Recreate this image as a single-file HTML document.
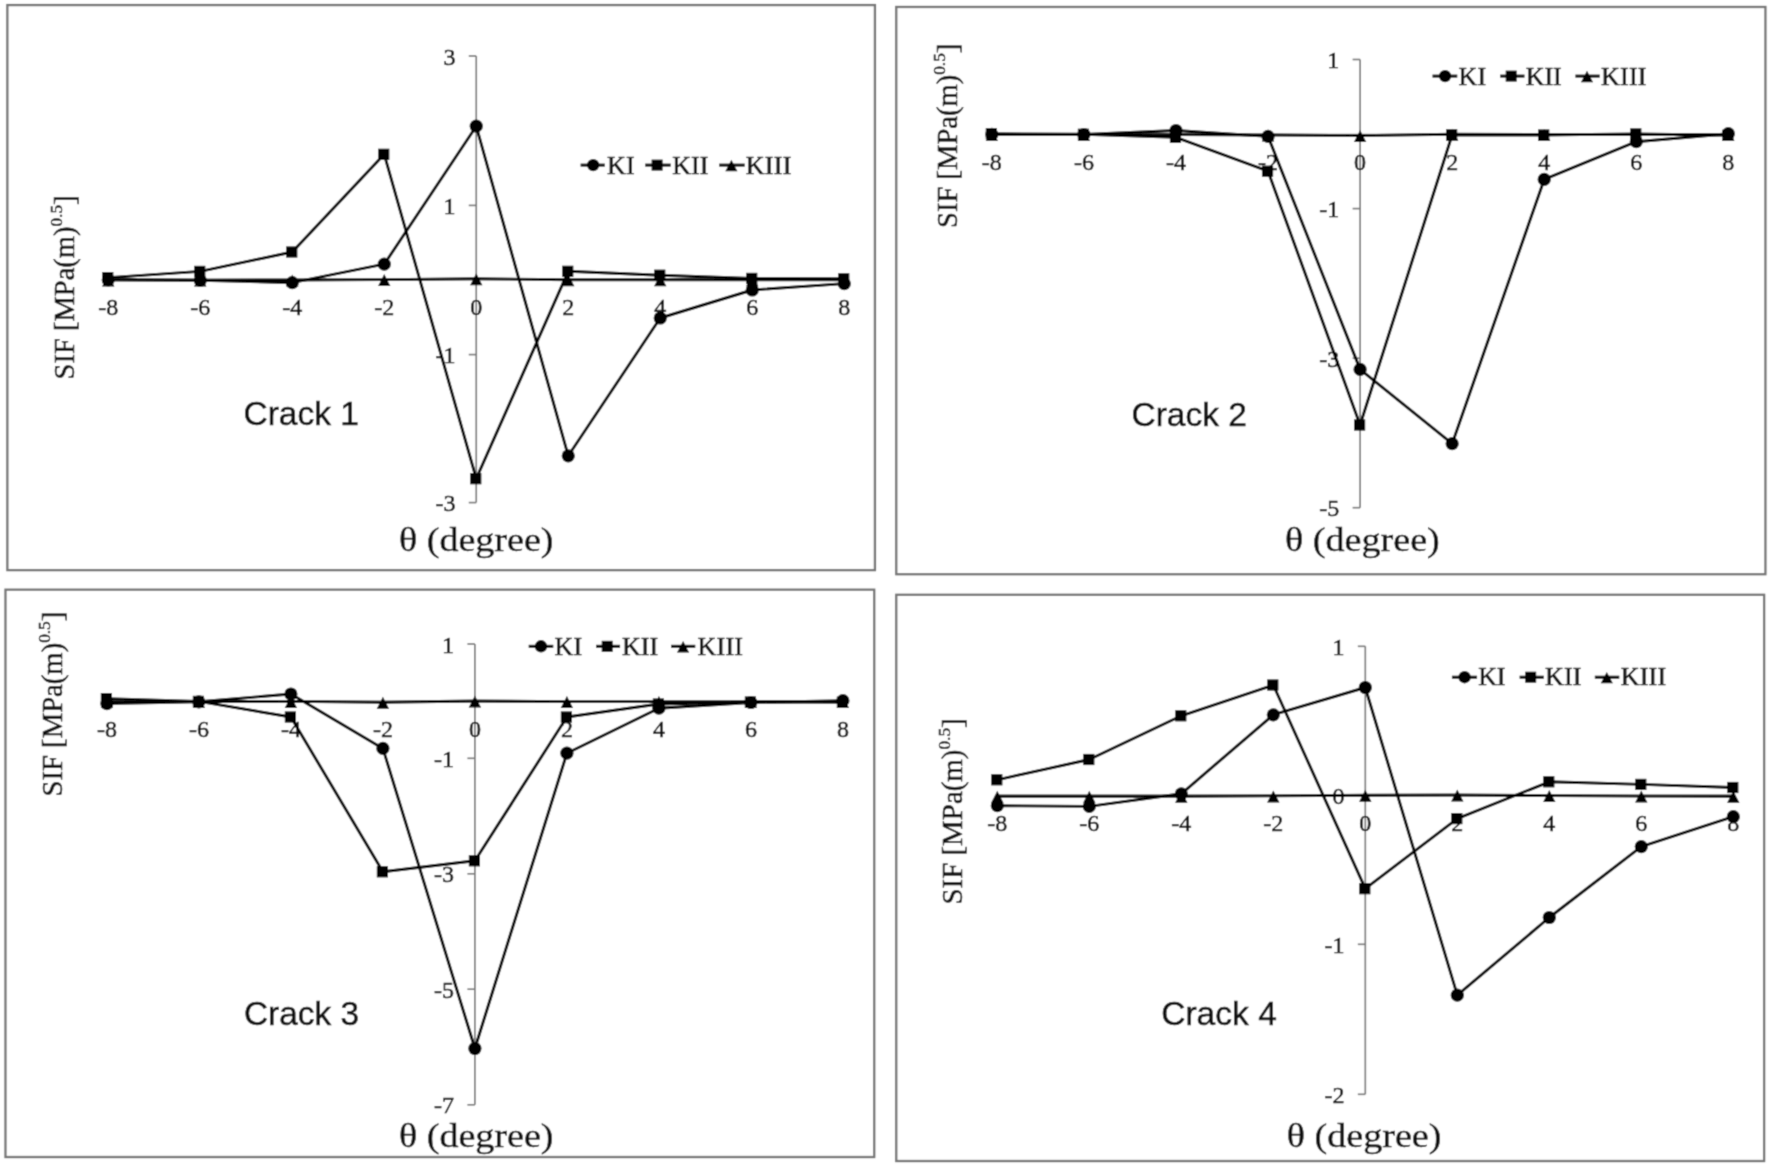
<!DOCTYPE html>
<html lang="en">
<head>
<meta charset="utf-8">
<title>SIF versus crack angle - Crack 1 to Crack 4</title>
<style>
html,body{margin:0;padding:0;background:#fff;}
body{width:1770px;height:1168px;overflow:hidden;}
svg{display:block;}
text{white-space:pre;}
</style>
</head>
<body>
<svg width="1770" height="1168" viewBox="0 0 1770 1168">
<defs><filter id="soft" x="0" y="0" width="1770" height="1168" filterUnits="userSpaceOnUse"><feConvolveMatrix order="3" kernelMatrix="0.0311 0.1141 0.0311 0.1141 0.4191 0.1141 0.0311 0.1141 0.0311" edgeMode="duplicate" preserveAlpha="false"/></filter></defs>
<rect x="0" y="0" width="1770" height="1168" fill="#ffffff"/>
<g filter="url(#soft)">
<g>
<rect x="7.4" y="5.1" width="867.5" height="565" fill="#fff" stroke="#767676" stroke-width="2.3"/>
<line x1="476.25" y1="56" x2="476.25" y2="502.6" stroke="#7a7a7a" stroke-width="1.7"/>
<line x1="468.75" y1="56" x2="476.25" y2="56" stroke="#7a7a7a" stroke-width="1.7"/>
<text x="455.45" y="64.5" font-family='"Liberation Serif", "DejaVu Serif", serif' font-size="24" text-anchor="end" fill="#0c0c0c" stroke="#0c0c0c" stroke-width="0.5">3</text>
<line x1="468.75" y1="205.4" x2="476.25" y2="205.4" stroke="#7a7a7a" stroke-width="1.7"/>
<text x="455.45" y="213.9" font-family='"Liberation Serif", "DejaVu Serif", serif' font-size="24" text-anchor="end" fill="#0c0c0c" stroke="#0c0c0c" stroke-width="0.5">1</text>
<line x1="468.75" y1="354.6" x2="476.25" y2="354.6" stroke="#7a7a7a" stroke-width="1.7"/>
<text x="455.45" y="363.1" font-family='"Liberation Serif", "DejaVu Serif", serif' font-size="24" text-anchor="end" fill="#0c0c0c" stroke="#0c0c0c" stroke-width="0.5">-1</text>
<line x1="468.75" y1="502.6" x2="476.25" y2="502.6" stroke="#7a7a7a" stroke-width="1.7"/>
<text x="455.45" y="511.1" font-family='"Liberation Serif", "DejaVu Serif", serif' font-size="24" text-anchor="end" fill="#0c0c0c" stroke="#0c0c0c" stroke-width="0.5">-3</text>
<line x1="108.25" y1="279.5" x2="844.25" y2="279.5" stroke="#7a7a7a" stroke-width="1.7"/>
<text x="108.25" y="315.1" font-family='"Liberation Serif", "DejaVu Serif", serif' font-size="24" text-anchor="middle" fill="#0c0c0c" stroke="#0c0c0c" stroke-width="0.5">-8</text>
<text x="200.25" y="315.1" font-family='"Liberation Serif", "DejaVu Serif", serif' font-size="24" text-anchor="middle" fill="#0c0c0c" stroke="#0c0c0c" stroke-width="0.5">-6</text>
<text x="292.25" y="315.1" font-family='"Liberation Serif", "DejaVu Serif", serif' font-size="24" text-anchor="middle" fill="#0c0c0c" stroke="#0c0c0c" stroke-width="0.5">-4</text>
<text x="384.25" y="315.1" font-family='"Liberation Serif", "DejaVu Serif", serif' font-size="24" text-anchor="middle" fill="#0c0c0c" stroke="#0c0c0c" stroke-width="0.5">-2</text>
<text x="476.25" y="315.1" font-family='"Liberation Serif", "DejaVu Serif", serif' font-size="24" text-anchor="middle" fill="#0c0c0c" stroke="#0c0c0c" stroke-width="0.5">0</text>
<text x="568.25" y="315.1" font-family='"Liberation Serif", "DejaVu Serif", serif' font-size="24" text-anchor="middle" fill="#0c0c0c" stroke="#0c0c0c" stroke-width="0.5">2</text>
<text x="660.25" y="315.1" font-family='"Liberation Serif", "DejaVu Serif", serif' font-size="24" text-anchor="middle" fill="#0c0c0c" stroke="#0c0c0c" stroke-width="0.5">4</text>
<text x="752.25" y="315.1" font-family='"Liberation Serif", "DejaVu Serif", serif' font-size="24" text-anchor="middle" fill="#0c0c0c" stroke="#0c0c0c" stroke-width="0.5">6</text>
<text x="844.25" y="315.1" font-family='"Liberation Serif", "DejaVu Serif", serif' font-size="24" text-anchor="middle" fill="#0c0c0c" stroke="#0c0c0c" stroke-width="0.5">8</text>
<text x="243.5" y="425.4" font-family='"Liberation Sans", "DejaVu Sans", sans-serif' font-size="34" text-anchor="start" fill="#0c0c0c" textLength="115.5" lengthAdjust="spacingAndGlyphs" stroke="#0c0c0c" stroke-width="0.5">Crack 1</text>
<text x="399" y="550.8" font-family='"Liberation Serif", "DejaVu Serif", serif' font-size="34" text-anchor="start" fill="#0c0c0c" textLength="154.5" lengthAdjust="spacingAndGlyphs" stroke="#0c0c0c" stroke-width="0.4">θ (degree)</text>
<text transform="translate(74.2 379.5) rotate(-90)" font-family='"Liberation Serif", "DejaVu Serif", serif' font-size="28.5" fill="#101010" stroke="#101010" stroke-width="0.5" textLength="184" lengthAdjust="spacingAndGlyphs">SIF [MPa(m)<tspan font-size="17.1" dy="-11.97">0.5</tspan><tspan dy="11.97">]</tspan></text>
<polyline fill="none" stroke="#000000" stroke-width="2.9" stroke-linejoin="round" points="108.25,279.8 200.25,280.3 292.25,282.7 384.25,264.2 476.25,126.2 568.25,455.8 660.25,318 752.25,290 844.25,283.6"/>
<circle cx="108.25" cy="279.8" r="6.6" fill="#000000"/>
<circle cx="200.25" cy="280.3" r="6.6" fill="#000000"/>
<circle cx="292.25" cy="282.7" r="6.6" fill="#000000"/>
<circle cx="384.25" cy="264.2" r="6.6" fill="#000000"/>
<circle cx="476.25" cy="126.2" r="6.6" fill="#000000"/>
<circle cx="568.25" cy="455.8" r="6.6" fill="#000000"/>
<circle cx="660.25" cy="318" r="6.6" fill="#000000"/>
<circle cx="752.25" cy="290" r="6.6" fill="#000000"/>
<circle cx="844.25" cy="283.6" r="6.6" fill="#000000"/>
<polyline fill="none" stroke="#000000" stroke-width="2.9" stroke-linejoin="round" points="108.25,277.6 200.25,271.4 292.25,252 384.25,154.3 476.25,478.7 568.25,271.3 660.25,275.2 752.25,278.4 844.25,278.8"/>
<rect x="102.15" y="272" width="11.2" height="11.2" fill="#000000"/>
<rect x="194.15" y="265.8" width="11.2" height="11.2" fill="#000000"/>
<rect x="286.15" y="246.4" width="11.2" height="11.2" fill="#000000"/>
<rect x="378.15" y="148.7" width="11.2" height="11.2" fill="#000000"/>
<rect x="470.15" y="473.1" width="11.2" height="11.2" fill="#000000"/>
<rect x="562.15" y="265.7" width="11.2" height="11.2" fill="#000000"/>
<rect x="654.15" y="269.6" width="11.2" height="11.2" fill="#000000"/>
<rect x="746.15" y="272.8" width="11.2" height="11.2" fill="#000000"/>
<rect x="838.15" y="273.2" width="11.2" height="11.2" fill="#000000"/>
<polyline fill="none" stroke="#000000" stroke-width="2.9" stroke-linejoin="round" points="108.25,279.9 200.25,280.1 292.25,280 384.25,279.6 476.25,278.7 568.25,279.8 660.25,279.8 752.25,279.8 844.25,279.8"/>
<polygon points="108.25,274.38 102.05,286.38 114.45,286.38" fill="#000000"/>
<polygon points="200.25,274.58 194.05,286.58 206.45,286.58" fill="#000000"/>
<polygon points="292.25,274.48 286.05,286.48 298.45,286.48" fill="#000000"/>
<polygon points="384.25,274.08 378.05,286.08 390.45,286.08" fill="#000000"/>
<polygon points="476.25,273.18 470.05,285.18 482.45,285.18" fill="#000000"/>
<polygon points="568.25,274.28 562.05,286.28 574.45,286.28" fill="#000000"/>
<polygon points="660.25,274.28 654.05,286.28 666.45,286.28" fill="#000000"/>
<polygon points="752.25,274.28 746.05,286.28 758.45,286.28" fill="#000000"/>
<polygon points="844.25,274.28 838.05,286.28 850.45,286.28" fill="#000000"/>
<line x1="580.6" y1="165.1" x2="604.8" y2="165.1" stroke="#000000" stroke-width="3"/>
<circle cx="593.2" cy="165.1" r="6.2" fill="#000000"/>
<text x="607" y="173.9" font-family='"Liberation Serif", "DejaVu Serif", serif' font-size="26" text-anchor="start" fill="#101010" textLength="27.6" lengthAdjust="spacing" stroke="#101010" stroke-width="0.6">KI</text>
<line x1="645.2" y1="165.1" x2="670.7" y2="165.1" stroke="#000000" stroke-width="3"/>
<rect x="651.6" y="159.6" width="11" height="11" fill="#000000"/>
<text x="672.3" y="173.9" font-family='"Liberation Serif", "DejaVu Serif", serif' font-size="26" text-anchor="start" fill="#101010" textLength="36.2" lengthAdjust="spacing" stroke="#101010" stroke-width="0.6">KII</text>
<line x1="719.2" y1="165.1" x2="744.7" y2="165.1" stroke="#000000" stroke-width="3"/>
<polygon points="731.4,159.86 725.3,171.26 737.5,171.26" fill="#000000"/>
<text x="745.7" y="173.9" font-family='"Liberation Serif", "DejaVu Serif", serif' font-size="26" text-anchor="start" fill="#101010" textLength="45.8" lengthAdjust="spacing" stroke="#101010" stroke-width="0.6">KIII</text>
</g>
<g>
<rect x="896.3" y="7" width="869.1" height="567.2" fill="#fff" stroke="#767676" stroke-width="2.3"/>
<line x1="1360.1" y1="59.5" x2="1360.1" y2="507.7" stroke="#7a7a7a" stroke-width="1.7"/>
<line x1="1352.6" y1="59.5" x2="1360.1" y2="59.5" stroke="#7a7a7a" stroke-width="1.7"/>
<text x="1339.3" y="68" font-family='"Liberation Serif", "DejaVu Serif", serif' font-size="24" text-anchor="end" fill="#0c0c0c" stroke="#0c0c0c" stroke-width="0.5">1</text>
<line x1="1352.6" y1="208.6" x2="1360.1" y2="208.6" stroke="#7a7a7a" stroke-width="1.7"/>
<text x="1339.3" y="217.1" font-family='"Liberation Serif", "DejaVu Serif", serif' font-size="24" text-anchor="end" fill="#0c0c0c" stroke="#0c0c0c" stroke-width="0.5">-1</text>
<line x1="1352.6" y1="358.2" x2="1360.1" y2="358.2" stroke="#7a7a7a" stroke-width="1.7"/>
<text x="1339.3" y="366.7" font-family='"Liberation Serif", "DejaVu Serif", serif' font-size="24" text-anchor="end" fill="#0c0c0c" stroke="#0c0c0c" stroke-width="0.5">-3</text>
<line x1="1352.6" y1="507.7" x2="1360.1" y2="507.7" stroke="#7a7a7a" stroke-width="1.7"/>
<text x="1339.3" y="516.2" font-family='"Liberation Serif", "DejaVu Serif", serif' font-size="24" text-anchor="end" fill="#0c0c0c" stroke="#0c0c0c" stroke-width="0.5">-5</text>
<line x1="991.86" y1="134.6" x2="1728.34" y2="134.6" stroke="#7a7a7a" stroke-width="1.7"/>
<text x="991.86" y="170.2" font-family='"Liberation Serif", "DejaVu Serif", serif' font-size="24" text-anchor="middle" fill="#0c0c0c" stroke="#0c0c0c" stroke-width="0.5">-8</text>
<text x="1083.92" y="170.2" font-family='"Liberation Serif", "DejaVu Serif", serif' font-size="24" text-anchor="middle" fill="#0c0c0c" stroke="#0c0c0c" stroke-width="0.5">-6</text>
<text x="1175.98" y="170.2" font-family='"Liberation Serif", "DejaVu Serif", serif' font-size="24" text-anchor="middle" fill="#0c0c0c" stroke="#0c0c0c" stroke-width="0.5">-4</text>
<text x="1268.04" y="170.2" font-family='"Liberation Serif", "DejaVu Serif", serif' font-size="24" text-anchor="middle" fill="#0c0c0c" stroke="#0c0c0c" stroke-width="0.5">-2</text>
<text x="1360.1" y="170.2" font-family='"Liberation Serif", "DejaVu Serif", serif' font-size="24" text-anchor="middle" fill="#0c0c0c" stroke="#0c0c0c" stroke-width="0.5">0</text>
<text x="1452.16" y="170.2" font-family='"Liberation Serif", "DejaVu Serif", serif' font-size="24" text-anchor="middle" fill="#0c0c0c" stroke="#0c0c0c" stroke-width="0.5">2</text>
<text x="1544.22" y="170.2" font-family='"Liberation Serif", "DejaVu Serif", serif' font-size="24" text-anchor="middle" fill="#0c0c0c" stroke="#0c0c0c" stroke-width="0.5">4</text>
<text x="1636.28" y="170.2" font-family='"Liberation Serif", "DejaVu Serif", serif' font-size="24" text-anchor="middle" fill="#0c0c0c" stroke="#0c0c0c" stroke-width="0.5">6</text>
<text x="1728.34" y="170.2" font-family='"Liberation Serif", "DejaVu Serif", serif' font-size="24" text-anchor="middle" fill="#0c0c0c" stroke="#0c0c0c" stroke-width="0.5">8</text>
<text x="1131.5" y="426" font-family='"Liberation Sans", "DejaVu Sans", sans-serif' font-size="34" text-anchor="start" fill="#0c0c0c" textLength="115.4" lengthAdjust="spacingAndGlyphs" stroke="#0c0c0c" stroke-width="0.5">Crack 2</text>
<text x="1285" y="551.4" font-family='"Liberation Serif", "DejaVu Serif", serif' font-size="34" text-anchor="start" fill="#0c0c0c" textLength="154.8" lengthAdjust="spacingAndGlyphs" stroke="#0c0c0c" stroke-width="0.4">θ (degree)</text>
<text transform="translate(957.2 228) rotate(-90)" font-family='"Liberation Serif", "DejaVu Serif", serif' font-size="28.5" fill="#101010" stroke="#101010" stroke-width="0.5" textLength="184.25" lengthAdjust="spacingAndGlyphs">SIF [MPa(m)<tspan font-size="17.1" dy="-11.97">0.5</tspan><tspan dy="11.97">]</tspan></text>
<polyline fill="none" stroke="#000000" stroke-width="2.9" stroke-linejoin="round" points="991.86,134.4 1083.92,134.5 1175.98,130.5 1268.04,136.4 1360.1,369.4 1452.16,443.7 1544.22,179.4 1636.28,141.7 1728.34,133.7"/>
<circle cx="991.86" cy="134.4" r="6.6" fill="#000000"/>
<circle cx="1083.92" cy="134.5" r="6.6" fill="#000000"/>
<circle cx="1175.98" cy="130.5" r="6.6" fill="#000000"/>
<circle cx="1268.04" cy="136.4" r="6.6" fill="#000000"/>
<circle cx="1360.1" cy="369.4" r="6.6" fill="#000000"/>
<circle cx="1452.16" cy="443.7" r="6.6" fill="#000000"/>
<circle cx="1544.22" cy="179.4" r="6.6" fill="#000000"/>
<circle cx="1636.28" cy="141.7" r="6.6" fill="#000000"/>
<circle cx="1728.34" cy="133.7" r="6.6" fill="#000000"/>
<polyline fill="none" stroke="#000000" stroke-width="2.9" stroke-linejoin="round" points="991.86,133.7 1083.92,134.3 1175.98,137.4 1268.04,171.2 1360.1,425 1452.16,134.8 1544.22,135 1636.28,133.9 1728.34,135.3"/>
<rect x="985.76" y="128.1" width="11.2" height="11.2" fill="#000000"/>
<rect x="1077.82" y="128.7" width="11.2" height="11.2" fill="#000000"/>
<rect x="1169.88" y="131.8" width="11.2" height="11.2" fill="#000000"/>
<rect x="1261.94" y="165.6" width="11.2" height="11.2" fill="#000000"/>
<rect x="1354" y="419.4" width="11.2" height="11.2" fill="#000000"/>
<rect x="1446.06" y="129.2" width="11.2" height="11.2" fill="#000000"/>
<rect x="1538.12" y="129.4" width="11.2" height="11.2" fill="#000000"/>
<rect x="1630.18" y="128.3" width="11.2" height="11.2" fill="#000000"/>
<rect x="1722.24" y="129.7" width="11.2" height="11.2" fill="#000000"/>
<polyline fill="none" stroke="#000000" stroke-width="2.9" stroke-linejoin="round" points="991.86,134.6 1083.92,134.6 1175.98,134.6 1268.04,135 1360.1,135.6 1452.16,134.2 1544.22,134.6 1636.28,134.6 1728.34,134.6"/>
<polygon points="991.86,129.08 985.66,141.08 998.06,141.08" fill="#000000"/>
<polygon points="1083.92,129.08 1077.72,141.08 1090.12,141.08" fill="#000000"/>
<polygon points="1175.98,129.08 1169.78,141.08 1182.18,141.08" fill="#000000"/>
<polygon points="1268.04,129.48 1261.84,141.48 1274.24,141.48" fill="#000000"/>
<polygon points="1360.1,130.08 1353.9,142.08 1366.3,142.08" fill="#000000"/>
<polygon points="1452.16,128.68 1445.96,140.68 1458.36,140.68" fill="#000000"/>
<polygon points="1544.22,129.08 1538.02,141.08 1550.42,141.08" fill="#000000"/>
<polygon points="1636.28,129.08 1630.08,141.08 1642.48,141.08" fill="#000000"/>
<polygon points="1728.34,129.08 1722.14,141.08 1734.54,141.08" fill="#000000"/>
<line x1="1432.5" y1="76.1" x2="1457.3" y2="76.1" stroke="#000000" stroke-width="3"/>
<circle cx="1445.1" cy="76.1" r="6.2" fill="#000000"/>
<text x="1458.6" y="84.5" font-family='"Liberation Serif", "DejaVu Serif", serif' font-size="26" text-anchor="start" fill="#101010" textLength="27.5" lengthAdjust="spacing" stroke="#101010" stroke-width="0.6">KI</text>
<line x1="1500.2" y1="76.1" x2="1524.5" y2="76.1" stroke="#000000" stroke-width="3"/>
<rect x="1505.7" y="70.6" width="11" height="11" fill="#000000"/>
<text x="1525.7" y="84.5" font-family='"Liberation Serif", "DejaVu Serif", serif' font-size="26" text-anchor="start" fill="#101010" textLength="36" lengthAdjust="spacing" stroke="#101010" stroke-width="0.6">KII</text>
<line x1="1575.4" y1="76.1" x2="1599.7" y2="76.1" stroke="#000000" stroke-width="3"/>
<polygon points="1587,70.86 1580.9,82.26 1593.1,82.26" fill="#000000"/>
<text x="1600.9" y="84.5" font-family='"Liberation Serif", "DejaVu Serif", serif' font-size="26" text-anchor="start" fill="#101010" textLength="45.6" lengthAdjust="spacing" stroke="#101010" stroke-width="0.6">KIII</text>
</g>
<g>
<rect x="5.5" y="589.7" width="868.7" height="567.3" fill="#fff" stroke="#767676" stroke-width="2.3"/>
<line x1="474.9" y1="644" x2="474.9" y2="1104.8" stroke="#7a7a7a" stroke-width="1.7"/>
<line x1="467.4" y1="644" x2="474.9" y2="644" stroke="#7a7a7a" stroke-width="1.7"/>
<text x="454.1" y="652.5" font-family='"Liberation Serif", "DejaVu Serif", serif' font-size="24" text-anchor="end" fill="#0c0c0c" stroke="#0c0c0c" stroke-width="0.5">1</text>
<line x1="467.4" y1="758.3" x2="474.9" y2="758.3" stroke="#7a7a7a" stroke-width="1.7"/>
<text x="454.1" y="766.8" font-family='"Liberation Serif", "DejaVu Serif", serif' font-size="24" text-anchor="end" fill="#0c0c0c" stroke="#0c0c0c" stroke-width="0.5">-1</text>
<line x1="467.4" y1="873.8" x2="474.9" y2="873.8" stroke="#7a7a7a" stroke-width="1.7"/>
<text x="454.1" y="882.3" font-family='"Liberation Serif", "DejaVu Serif", serif' font-size="24" text-anchor="end" fill="#0c0c0c" stroke="#0c0c0c" stroke-width="0.5">-3</text>
<line x1="467.4" y1="989.2" x2="474.9" y2="989.2" stroke="#7a7a7a" stroke-width="1.7"/>
<text x="454.1" y="997.7" font-family='"Liberation Serif", "DejaVu Serif", serif' font-size="24" text-anchor="end" fill="#0c0c0c" stroke="#0c0c0c" stroke-width="0.5">-5</text>
<line x1="467.4" y1="1104.8" x2="474.9" y2="1104.8" stroke="#7a7a7a" stroke-width="1.7"/>
<text x="454.1" y="1113.3" font-family='"Liberation Serif", "DejaVu Serif", serif' font-size="24" text-anchor="end" fill="#0c0c0c" stroke="#0c0c0c" stroke-width="0.5">-7</text>
<line x1="106.9" y1="701.6" x2="842.9" y2="701.6" stroke="#7a7a7a" stroke-width="1.7"/>
<text x="106.9" y="737.2" font-family='"Liberation Serif", "DejaVu Serif", serif' font-size="24" text-anchor="middle" fill="#0c0c0c" stroke="#0c0c0c" stroke-width="0.5">-8</text>
<text x="198.9" y="737.2" font-family='"Liberation Serif", "DejaVu Serif", serif' font-size="24" text-anchor="middle" fill="#0c0c0c" stroke="#0c0c0c" stroke-width="0.5">-6</text>
<text x="290.9" y="737.2" font-family='"Liberation Serif", "DejaVu Serif", serif' font-size="24" text-anchor="middle" fill="#0c0c0c" stroke="#0c0c0c" stroke-width="0.5">-4</text>
<text x="382.9" y="737.2" font-family='"Liberation Serif", "DejaVu Serif", serif' font-size="24" text-anchor="middle" fill="#0c0c0c" stroke="#0c0c0c" stroke-width="0.5">-2</text>
<text x="474.9" y="737.2" font-family='"Liberation Serif", "DejaVu Serif", serif' font-size="24" text-anchor="middle" fill="#0c0c0c" stroke="#0c0c0c" stroke-width="0.5">0</text>
<text x="566.9" y="737.2" font-family='"Liberation Serif", "DejaVu Serif", serif' font-size="24" text-anchor="middle" fill="#0c0c0c" stroke="#0c0c0c" stroke-width="0.5">2</text>
<text x="658.9" y="737.2" font-family='"Liberation Serif", "DejaVu Serif", serif' font-size="24" text-anchor="middle" fill="#0c0c0c" stroke="#0c0c0c" stroke-width="0.5">4</text>
<text x="750.9" y="737.2" font-family='"Liberation Serif", "DejaVu Serif", serif' font-size="24" text-anchor="middle" fill="#0c0c0c" stroke="#0c0c0c" stroke-width="0.5">6</text>
<text x="842.9" y="737.2" font-family='"Liberation Serif", "DejaVu Serif", serif' font-size="24" text-anchor="middle" fill="#0c0c0c" stroke="#0c0c0c" stroke-width="0.5">8</text>
<text x="244" y="1024.6" font-family='"Liberation Sans", "DejaVu Sans", sans-serif' font-size="34" text-anchor="start" fill="#0c0c0c" textLength="115" lengthAdjust="spacingAndGlyphs" stroke="#0c0c0c" stroke-width="0.5">Crack 3</text>
<text x="399" y="1146.8" font-family='"Liberation Serif", "DejaVu Serif", serif' font-size="34" text-anchor="start" fill="#0c0c0c" textLength="154.5" lengthAdjust="spacingAndGlyphs" stroke="#0c0c0c" stroke-width="0.4">θ (degree)</text>
<text transform="translate(61.7 796.5) rotate(-90)" font-family='"Liberation Serif", "DejaVu Serif", serif' font-size="28.5" fill="#101010" stroke="#101010" stroke-width="0.5" textLength="184.75" lengthAdjust="spacingAndGlyphs">SIF [MPa(m)<tspan font-size="17.1" dy="-11.97">0.5</tspan><tspan dy="11.97">]</tspan></text>
<polyline fill="none" stroke="#000000" stroke-width="2.9" stroke-linejoin="round" points="106.9,703.6 198.9,701.8 290.9,694 382.9,748.4 474.9,1048.5 566.9,753.2 658.9,708.2 750.9,702.5 842.9,700.7"/>
<circle cx="106.9" cy="703.6" r="6.6" fill="#000000"/>
<circle cx="198.9" cy="701.8" r="6.6" fill="#000000"/>
<circle cx="290.9" cy="694" r="6.6" fill="#000000"/>
<circle cx="382.9" cy="748.4" r="6.6" fill="#000000"/>
<circle cx="474.9" cy="1048.5" r="6.6" fill="#000000"/>
<circle cx="566.9" cy="753.2" r="6.6" fill="#000000"/>
<circle cx="658.9" cy="708.2" r="6.6" fill="#000000"/>
<circle cx="750.9" cy="702.5" r="6.6" fill="#000000"/>
<circle cx="842.9" cy="700.7" r="6.6" fill="#000000"/>
<polyline fill="none" stroke="#000000" stroke-width="2.9" stroke-linejoin="round" points="106.9,698.6 198.9,701.4 290.9,717 382.9,871.8 474.9,860.8 566.9,717 658.9,704 750.9,702 842.9,702.2"/>
<rect x="100.8" y="693" width="11.2" height="11.2" fill="#000000"/>
<rect x="192.8" y="695.8" width="11.2" height="11.2" fill="#000000"/>
<rect x="284.8" y="711.4" width="11.2" height="11.2" fill="#000000"/>
<rect x="376.8" y="866.2" width="11.2" height="11.2" fill="#000000"/>
<rect x="468.8" y="855.2" width="11.2" height="11.2" fill="#000000"/>
<rect x="560.8" y="711.4" width="11.2" height="11.2" fill="#000000"/>
<rect x="652.8" y="698.4" width="11.2" height="11.2" fill="#000000"/>
<rect x="744.8" y="696.4" width="11.2" height="11.2" fill="#000000"/>
<rect x="836.8" y="696.6" width="11.2" height="11.2" fill="#000000"/>
<polyline fill="none" stroke="#000000" stroke-width="2.9" stroke-linejoin="round" points="106.9,701.6 198.9,701.6 290.9,701.4 382.9,702.2 474.9,701 566.9,701.6 658.9,701.6 750.9,701.6 842.9,701.4"/>
<polygon points="106.9,696.08 100.7,708.08 113.1,708.08" fill="#000000"/>
<polygon points="198.9,696.08 192.7,708.08 205.1,708.08" fill="#000000"/>
<polygon points="290.9,695.88 284.7,707.88 297.1,707.88" fill="#000000"/>
<polygon points="382.9,696.68 376.7,708.68 389.1,708.68" fill="#000000"/>
<polygon points="474.9,695.48 468.7,707.48 481.1,707.48" fill="#000000"/>
<polygon points="566.9,696.08 560.7,708.08 573.1,708.08" fill="#000000"/>
<polygon points="658.9,696.08 652.7,708.08 665.1,708.08" fill="#000000"/>
<polygon points="750.9,696.08 744.7,708.08 757.1,708.08" fill="#000000"/>
<polygon points="842.9,695.88 836.7,707.88 849.1,707.88" fill="#000000"/>
<line x1="528.7" y1="646.3" x2="553.3" y2="646.3" stroke="#000000" stroke-width="3"/>
<circle cx="541" cy="646.3" r="6.2" fill="#000000"/>
<text x="554.5" y="655.1" font-family='"Liberation Serif", "DejaVu Serif", serif' font-size="26" text-anchor="start" fill="#101010" textLength="27.6" lengthAdjust="spacing" stroke="#101010" stroke-width="0.6">KI</text>
<line x1="596.1" y1="646.3" x2="620.1" y2="646.3" stroke="#000000" stroke-width="3"/>
<rect x="601.7" y="640.8" width="11" height="11" fill="#000000"/>
<text x="622" y="655.1" font-family='"Liberation Serif", "DejaVu Serif", serif' font-size="26" text-anchor="start" fill="#101010" textLength="36.2" lengthAdjust="spacing" stroke="#101010" stroke-width="0.6">KII</text>
<line x1="671.1" y1="646.3" x2="695.3" y2="646.3" stroke="#000000" stroke-width="3"/>
<polygon points="683.1,641.06 677,652.46 689.2,652.46" fill="#000000"/>
<text x="697.4" y="655.1" font-family='"Liberation Serif", "DejaVu Serif", serif' font-size="26" text-anchor="start" fill="#101010" textLength="45.6" lengthAdjust="spacing" stroke="#101010" stroke-width="0.6">KIII</text>
</g>
<g>
<rect x="896.3" y="594.8" width="867.8" height="566.2" fill="#fff" stroke="#767676" stroke-width="2.3"/>
<line x1="1365.3" y1="646.3" x2="1365.3" y2="1094.3" stroke="#7a7a7a" stroke-width="1.7"/>
<line x1="1357.8" y1="646.3" x2="1365.3" y2="646.3" stroke="#7a7a7a" stroke-width="1.7"/>
<text x="1344.5" y="654.8" font-family='"Liberation Serif", "DejaVu Serif", serif' font-size="24" text-anchor="end" fill="#0c0c0c" stroke="#0c0c0c" stroke-width="0.5">1</text>
<line x1="1357.8" y1="795.6" x2="1365.3" y2="795.6" stroke="#7a7a7a" stroke-width="1.7"/>
<text x="1344.5" y="804.1" font-family='"Liberation Serif", "DejaVu Serif", serif' font-size="24" text-anchor="end" fill="#0c0c0c" stroke="#0c0c0c" stroke-width="0.5">0</text>
<line x1="1357.8" y1="944.3" x2="1365.3" y2="944.3" stroke="#7a7a7a" stroke-width="1.7"/>
<text x="1344.5" y="952.8" font-family='"Liberation Serif", "DejaVu Serif", serif' font-size="24" text-anchor="end" fill="#0c0c0c" stroke="#0c0c0c" stroke-width="0.5">-1</text>
<line x1="1357.8" y1="1094.3" x2="1365.3" y2="1094.3" stroke="#7a7a7a" stroke-width="1.7"/>
<text x="1344.5" y="1102.8" font-family='"Liberation Serif", "DejaVu Serif", serif' font-size="24" text-anchor="end" fill="#0c0c0c" stroke="#0c0c0c" stroke-width="0.5">-2</text>
<line x1="997.3" y1="795.4" x2="1733.3" y2="795.4" stroke="#7a7a7a" stroke-width="1.7"/>
<text x="997.3" y="831" font-family='"Liberation Serif", "DejaVu Serif", serif' font-size="24" text-anchor="middle" fill="#0c0c0c" stroke="#0c0c0c" stroke-width="0.5">-8</text>
<text x="1089.3" y="831" font-family='"Liberation Serif", "DejaVu Serif", serif' font-size="24" text-anchor="middle" fill="#0c0c0c" stroke="#0c0c0c" stroke-width="0.5">-6</text>
<text x="1181.3" y="831" font-family='"Liberation Serif", "DejaVu Serif", serif' font-size="24" text-anchor="middle" fill="#0c0c0c" stroke="#0c0c0c" stroke-width="0.5">-4</text>
<text x="1273.3" y="831" font-family='"Liberation Serif", "DejaVu Serif", serif' font-size="24" text-anchor="middle" fill="#0c0c0c" stroke="#0c0c0c" stroke-width="0.5">-2</text>
<text x="1365.3" y="831" font-family='"Liberation Serif", "DejaVu Serif", serif' font-size="24" text-anchor="middle" fill="#0c0c0c" stroke="#0c0c0c" stroke-width="0.5">0</text>
<text x="1457.3" y="831" font-family='"Liberation Serif", "DejaVu Serif", serif' font-size="24" text-anchor="middle" fill="#0c0c0c" stroke="#0c0c0c" stroke-width="0.5">2</text>
<text x="1549.3" y="831" font-family='"Liberation Serif", "DejaVu Serif", serif' font-size="24" text-anchor="middle" fill="#0c0c0c" stroke="#0c0c0c" stroke-width="0.5">4</text>
<text x="1641.3" y="831" font-family='"Liberation Serif", "DejaVu Serif", serif' font-size="24" text-anchor="middle" fill="#0c0c0c" stroke="#0c0c0c" stroke-width="0.5">6</text>
<text x="1733.3" y="831" font-family='"Liberation Serif", "DejaVu Serif", serif' font-size="24" text-anchor="middle" fill="#0c0c0c" stroke="#0c0c0c" stroke-width="0.5">8</text>
<text x="1161.2" y="1024.6" font-family='"Liberation Sans", "DejaVu Sans", sans-serif' font-size="34" text-anchor="start" fill="#0c0c0c" textLength="115.6" lengthAdjust="spacingAndGlyphs" stroke="#0c0c0c" stroke-width="0.5">Crack 4</text>
<text x="1286.8" y="1146.8" font-family='"Liberation Serif", "DejaVu Serif", serif' font-size="34" text-anchor="start" fill="#0c0c0c" textLength="154.6" lengthAdjust="spacingAndGlyphs" stroke="#0c0c0c" stroke-width="0.4">θ (degree)</text>
<text transform="translate(961.7 904.5) rotate(-90)" font-family='"Liberation Serif", "DejaVu Serif", serif' font-size="28.5" fill="#101010" stroke="#101010" stroke-width="0.5" textLength="186.25" lengthAdjust="spacingAndGlyphs">SIF [MPa(m)<tspan font-size="17.1" dy="-11.97">0.5</tspan><tspan dy="11.97">]</tspan></text>
<polyline fill="none" stroke="#000000" stroke-width="2.9" stroke-linejoin="round" points="997.3,805.7 1089.3,806.4 1181.3,793.8 1273.3,714.8 1365.3,687.5 1457.3,995.2 1549.3,917.5 1641.3,846.6 1733.3,816.7"/>
<circle cx="997.3" cy="805.7" r="6.6" fill="#000000"/>
<circle cx="1089.3" cy="806.4" r="6.6" fill="#000000"/>
<circle cx="1181.3" cy="793.8" r="6.6" fill="#000000"/>
<circle cx="1273.3" cy="714.8" r="6.6" fill="#000000"/>
<circle cx="1365.3" cy="687.5" r="6.6" fill="#000000"/>
<circle cx="1457.3" cy="995.2" r="6.6" fill="#000000"/>
<circle cx="1549.3" cy="917.5" r="6.6" fill="#000000"/>
<circle cx="1641.3" cy="846.6" r="6.6" fill="#000000"/>
<circle cx="1733.3" cy="816.7" r="6.6" fill="#000000"/>
<polyline fill="none" stroke="#000000" stroke-width="2.9" stroke-linejoin="round" points="997.3,779.8 1089.3,759.5 1181.3,715.8 1273.3,685 1365.3,888.7 1457.3,818.6 1549.3,781.8 1641.3,784.4 1733.3,787.5"/>
<rect x="991.2" y="774.2" width="11.2" height="11.2" fill="#000000"/>
<rect x="1083.2" y="753.9" width="11.2" height="11.2" fill="#000000"/>
<rect x="1175.2" y="710.2" width="11.2" height="11.2" fill="#000000"/>
<rect x="1267.2" y="679.4" width="11.2" height="11.2" fill="#000000"/>
<rect x="1359.2" y="883.1" width="11.2" height="11.2" fill="#000000"/>
<rect x="1451.2" y="813" width="11.2" height="11.2" fill="#000000"/>
<rect x="1543.2" y="776.2" width="11.2" height="11.2" fill="#000000"/>
<rect x="1635.2" y="778.8" width="11.2" height="11.2" fill="#000000"/>
<rect x="1727.2" y="781.9" width="11.2" height="11.2" fill="#000000"/>
<polyline fill="none" stroke="#000000" stroke-width="2.9" stroke-linejoin="round" points="997.3,796.3 1089.3,796.3 1181.3,796.2 1273.3,795.9 1365.3,795.3 1457.3,795 1549.3,795.6 1641.3,796.1 1733.3,796.2"/>
<polygon points="997.3,790.78 991.1,802.78 1003.5,802.78" fill="#000000"/>
<polygon points="1089.3,790.78 1083.1,802.78 1095.5,802.78" fill="#000000"/>
<polygon points="1181.3,790.68 1175.1,802.68 1187.5,802.68" fill="#000000"/>
<polygon points="1273.3,790.38 1267.1,802.38 1279.5,802.38" fill="#000000"/>
<polygon points="1365.3,789.78 1359.1,801.78 1371.5,801.78" fill="#000000"/>
<polygon points="1457.3,789.48 1451.1,801.48 1463.5,801.48" fill="#000000"/>
<polygon points="1549.3,790.08 1543.1,802.08 1555.5,802.08" fill="#000000"/>
<polygon points="1641.3,790.58 1635.1,802.58 1647.5,802.58" fill="#000000"/>
<polygon points="1733.3,790.68 1727.1,802.68 1739.5,802.68" fill="#000000"/>
<line x1="1451.9" y1="677.2" x2="1477.1" y2="677.2" stroke="#000000" stroke-width="3"/>
<circle cx="1464.6" cy="677.2" r="6.2" fill="#000000"/>
<text x="1478.2" y="685.3" font-family='"Liberation Serif", "DejaVu Serif", serif' font-size="26" text-anchor="start" fill="#101010" textLength="27.3" lengthAdjust="spacing" stroke="#101010" stroke-width="0.6">KI</text>
<line x1="1519.6" y1="677.2" x2="1543.8" y2="677.2" stroke="#000000" stroke-width="3"/>
<rect x="1525.2" y="671.7" width="11" height="11" fill="#000000"/>
<text x="1545.1" y="685.3" font-family='"Liberation Serif", "DejaVu Serif", serif' font-size="26" text-anchor="start" fill="#101010" textLength="36.2" lengthAdjust="spacing" stroke="#101010" stroke-width="0.6">KII</text>
<line x1="1594.8" y1="677.2" x2="1619.3" y2="677.2" stroke="#000000" stroke-width="3"/>
<polygon points="1606.8,671.96 1600.7,683.36 1612.9,683.36" fill="#000000"/>
<text x="1620.7" y="685.3" font-family='"Liberation Serif", "DejaVu Serif", serif' font-size="26" text-anchor="start" fill="#101010" textLength="45.5" lengthAdjust="spacing" stroke="#101010" stroke-width="0.6">KIII</text>
</g>
</g>
</svg>
</body>
</html>
